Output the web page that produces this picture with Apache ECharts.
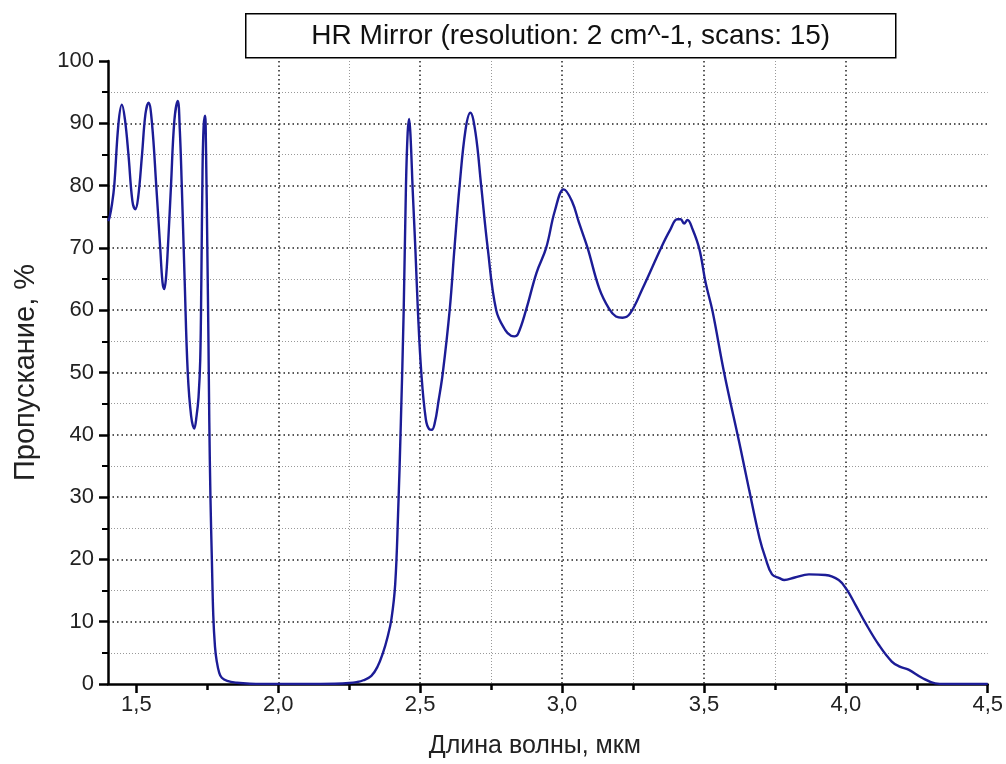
<!DOCTYPE html>
<html><head><meta charset="utf-8">
<script src="https://cdn.jsdelivr.net/npm/echarts@6/dist/echarts.min.js"></script>
<style>html,body{margin:0;padding:0;background:#fff}#c{width:1006px;height:764px}</style>
</head><body><div id="c"></div>
<script>
const titleText = 'HR Mirror (resolution: 2 cm^-1, scans: 15)';
const xName = 'Длина волны, мкм';
const yName = 'Пропускание, %';
const xMajorTicks = [1.5, 2.0, 2.5, 3.0, 3.5, 4.0, 4.5];
const xMinorTicks = [1.75, 2.25, 2.75, 3.25, 3.75, 4.25];
const wavelength = [
  1.401, 1.406, 1.414, 1.422, 1.437, 1.449, 1.460, 1.472, 1.486, 1.496,
  1.506, 1.520, 1.532, 1.543, 1.555, 1.570, 1.584, 1.592, 1.598, 1.604,
  1.611, 1.622, 1.634, 1.646, 1.653, 1.660, 1.670, 1.681, 1.693, 1.704,
  1.712, 1.719, 1.725, 1.729, 1.733, 1.737, 1.742, 1.745, 1.750, 1.754,
  1.757, 1.761, 1.766, 1.771, 1.777, 1.783, 1.792, 1.801, 1.820, 1.854,
  1.900, 2.000, 2.100, 2.200, 2.250, 2.276, 2.300, 2.328, 2.350, 2.369,
  2.385, 2.399, 2.412, 2.422, 2.432, 2.442, 2.450, 2.456, 2.461, 2.466,
  2.474, 2.483, 2.492, 2.504, 2.520, 2.532, 2.541, 2.552, 2.565, 2.580,
  2.604, 2.621, 2.639, 2.660, 2.677, 2.695, 2.715, 2.738, 2.768, 2.800,
  2.820, 2.832, 2.845, 2.873, 2.910, 2.944, 2.975, 3.006, 3.035, 3.060,
  3.090, 3.131, 3.166, 3.190, 3.213, 3.240, 3.283, 3.348, 3.380, 3.406,
  3.418, 3.430, 3.442, 3.460, 3.484, 3.506, 3.530, 3.571, 3.629, 3.660,
  3.696, 3.717, 3.740, 3.766, 3.783, 3.820, 3.870, 3.928, 3.975, 4.004,
  4.034, 4.069, 4.116, 4.162, 4.190, 4.221, 4.268, 4.315, 4.350, 4.500
];
const transmission = [
  74.3, 75.0, 77.0, 80.0, 90.0, 93.0, 90.5, 85.0, 77.5, 76.2,
  78.0, 85.0, 91.5, 93.3, 90.0, 80.0, 70.0, 64.5, 63.4, 65.0,
  70.0, 80.0, 90.5, 93.6, 89.0, 80.0, 65.0, 50.0, 43.0, 41.0,
  43.0, 46.0, 52.0, 65.0, 82.0, 89.5, 91.2, 87.0, 70.0, 55.0,
  42.0, 30.0, 20.0, 11.0, 6.0, 3.7, 1.8, 1.0, 0.5, 0.2,
  0.05, 0.0, 0.0, 0.05, 0.15, 0.3, 0.6, 1.3, 2.8, 5.0,
  7.5, 10.5, 16.0, 27.0, 42.0, 60.0, 80.0, 88.5, 90.7, 88.0,
  79.0, 70.0, 60.0, 50.0, 42.5, 40.9, 40.8, 42.0, 45.5, 50.0,
  60.0, 70.0, 80.0, 89.0, 91.7, 88.5, 80.0, 70.0, 60.0, 56.8,
  55.9, 55.8, 56.2, 60.0, 66.0, 70.0, 76.0, 79.4, 77.5, 74.0,
  70.0, 63.5, 60.2, 59.0, 58.8, 59.5, 63.4, 69.9, 72.8, 74.6,
  74.6, 73.9, 74.5, 73.0, 69.8, 64.4, 59.9, 50.0, 37.8, 31.0,
  23.4, 20.2, 17.6, 17.0, 16.7, 17.1, 17.6, 17.5, 16.7, 15.1,
  12.7, 9.8, 6.3, 3.6, 2.8, 2.3, 1.0, 0.1, 0.0, 0.0
];
const seriesData = wavelength.map((w, i) => [w, transmission[i]]);

const chart = echarts.init(document.getElementById('c'), null, {renderer: 'canvas'});
const font = '"Liberation Sans", Arial, sans-serif';
chart.setOption({
  animation: false,
  backgroundColor: '#fff',
  graphic: [{
    type: 'group', left: 245, top: 13,
    children: [
      {type: 'rect', shape: {x: 0, y: 0, width: 650, height: 44}, style: {fill: '#fff', stroke: '#000', lineWidth: 1.5}},
      {type: 'text', x: 325, y: 23, style: {text: titleText, font: '28px ' + font, fill: '#111', align: 'center', verticalAlign: 'middle'}}
    ]
  }],
  grid: {left: 108, right: 17, top: 61, bottom: 78, containLabel: false},
  xAxis: [{
    type: 'value', min: 1.4, max: 4.5, position: 'bottom',
    name: xName, nameLocation: 'middle', nameGap: 50,
    nameTextStyle: {fontFamily: font, fontSize: 25, color: '#222', padding: [0, 26, 0, 0]},
    axisLine: {show: true, onZero: false, lineStyle: {color: '#000', width: 2.5}},
    axisTick: {show: true, length: 9, inside: false, customValues: xMajorTicks, lineStyle: {color: '#000', width: 2.5}},
    axisLabel: {customValues: xMajorTicks, fontFamily: font, fontSize: 22, color: '#222', margin: 10,
      formatter: v => Number(v).toFixed(1).replace('.', ',')},
    splitLine: {show: true, showMinLine: false, showMaxLine: false, lineStyle: {color: '#222', width: 1.5, type: [1.5, 3]}}
  }, {
    type: 'value', min: 1.4, max: 4.5, position: 'bottom', offset: 0,
    axisLine: {show: false},
    axisTick: {show: true, length: 6, customValues: xMinorTicks, lineStyle: {color: '#000', width: 2.5}},
    axisLabel: {show: false, customValues: xMinorTicks},
    splitLine: {show: true, showMinLine: false, showMaxLine: false, lineStyle: {color: '#999', width: 1, type: [1, 2]}}
  }],
  yAxis: {
    type: 'value', min: 0, max: 100, interval: 10,
    name: yName, nameLocation: 'middle', nameGap: 68,
    nameTextStyle: {fontFamily: font, fontSize: 29, color: '#222'},
    axisLine: {show: true, lineStyle: {color: '#000', width: 2.5}},
    axisTick: {show: true, length: 9, lineStyle: {color: '#000', width: 2.5}},
    minorTick: {show: true, splitNumber: 2, length: 6, lineStyle: {color: '#000', width: 2}},
    axisLabel: {fontFamily: font, fontSize: 22, color: '#222', margin: 14},
    splitLine: {show: true, showMinLine: false, showMaxLine: false, lineStyle: {color: '#222', width: 1.5, type: [1.5, 3]}},
    minorSplitLine: {show: true, lineStyle: {color: '#999', width: 1, type: [1, 2]}}
  },
  series: [{
    type: 'line', xAxisIndex: 0, data: seriesData,
    smooth: 0.4, showSymbol: false, symbol: 'none',
    lineStyle: {color: '#1c1c96', width: 2.4}, z: 5
  }]
});
</script></body></html>
